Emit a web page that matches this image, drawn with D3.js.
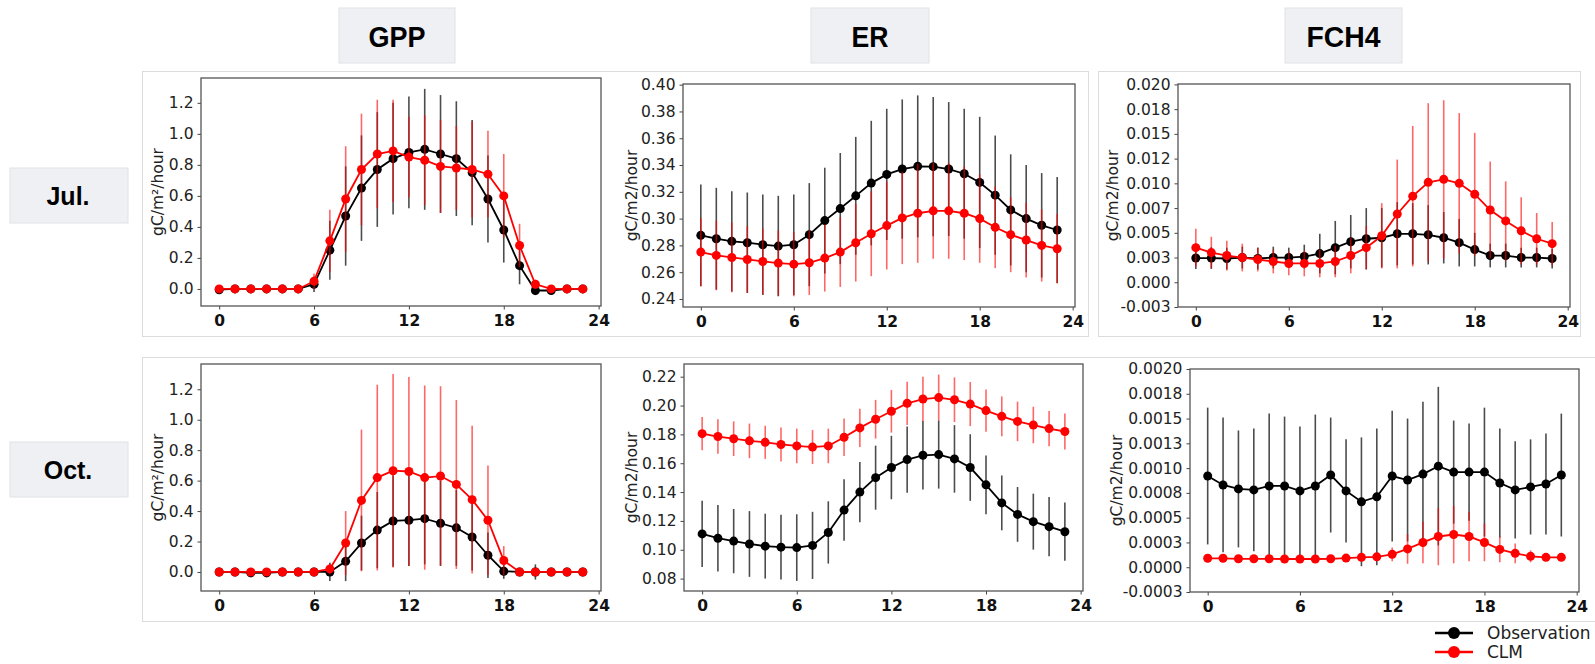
<!DOCTYPE html>
<html>
<head>
<meta charset="utf-8">
<script src="https://cdn.jsdelivr.net/npm/d3@7"></script>
<style>
  body { margin: 0; background: #fff; }
  svg { display: block; }
</style>
</head>
<body>
<svg id="chart" width="1595" height="664"></svg>
<script>
// hours of the day
const hours = [0,1,2,3,4,5,6,7,8,9,10,11,12,13,14,15,16,17,18,19,20,21,22,23];
const xTicks = [0, 6, 12, 18, 24];

// July
const julGppObs   = [-0.005,0,0,0,0,0,0.03,0.25,0.47,0.65,0.77,0.84,0.88,0.90,0.87,0.84,0.75,0.58,0.38,0.15,-0.01,-0.01,0,0];
const julGppObsSd = [0.01,0,0,0,0,0,0.05,0.19,0.32,0.34,0.37,0.36,0.36,0.39,0.38,0.37,0.34,0.28,0.21,0.12,0.03,0.02,0,0];
const julGppClm   = [0,0,0,0,0,0,0.05,0.31,0.58,0.77,0.87,0.89,0.85,0.83,0.79,0.78,0.77,0.74,0.60,0.28,0.03,0,0,0];
const julGppClmSd = [0,0,0,0,0,0,0.05,0.20,0.34,0.36,0.35,0.33,0.26,0.29,0.30,0.27,0.31,0.28,0.27,0.14,0.03,0,0,0];

const julErObs   = [0.2875,0.285,0.283,0.282,0.2805,0.2795,0.2805,0.288,0.2985,0.3075,0.317,0.3265,0.333,0.337,0.339,0.3388,0.337,0.3335,0.327,0.3175,0.3065,0.300,0.295,0.2915];
const julErObsSd = [0.038,0.038,0.0375,0.0375,0.0375,0.0375,0.0375,0.0385,0.0395,0.0415,0.044,0.0465,0.049,0.052,0.053,0.052,0.050,0.0485,0.049,0.0445,0.0415,0.040,0.039,0.0395];
const julErClm   = [0.275,0.2725,0.271,0.2695,0.268,0.2668,0.266,0.267,0.2705,0.275,0.282,0.2887,0.2948,0.3005,0.304,0.3058,0.3058,0.304,0.300,0.2935,0.288,0.284,0.280,0.2775];
const julErClmSd = [0.0255,0.026,0.026,0.025,0.0245,0.0243,0.024,0.024,0.025,0.026,0.029,0.0317,0.0328,0.0345,0.037,0.0358,0.0358,0.035,0.033,0.0305,0.028,0.028,0.027,0.026];

const julCh4Obs   = [0.00245,0.00245,0.0024,0.0025,0.0024,0.0025,0.0025,0.0026,0.0029,0.0035,0.0041,0.0044,0.0045,0.0049,0.0049,0.0048,0.0045,0.0040,0.0033,0.0027,0.0027,0.0025,0.0025,0.0024];
const julCh4ObsSd = [0.0011,0.0011,0.0011,0.0011,0.0011,0.0011,0.0010,0.0012,0.0020,0.0027,0.0027,0.0031,0.0030,0.0032,0.0031,0.0030,0.0026,0.0024,0.0017,0.0012,0.0012,0.0010,0.0010,0.0010];
const julCh4Clm   = [0.0035,0.0030,0.0027,0.0025,0.0023,0.0021,0.0019,0.0019,0.0019,0.0021,0.0027,0.0035,0.0047,0.0069,0.0087,0.0101,0.0104,0.0100,0.0089,0.0073,0.0062,0.0052,0.0044,0.0039];
const julCh4ClmSd = [0.0019,0.0016,0.0015,0.0014,0.0012,0.0012,0.0012,0.0013,0.0014,0.0016,0.0018,0.0022,0.0033,0.0055,0.0071,0.0080,0.0080,0.0071,0.0062,0.0049,0.0040,0.0034,0.0026,0.0022];

// October
const octGppObs   = [0,0,-0.005,-0.005,0,0,0,0,0.07,0.19,0.275,0.335,0.34,0.35,0.32,0.29,0.23,0.11,0.005,0,0,0,0,0];
const octGppObsSd = [0.01,0.01,0.03,0.03,0.01,0.01,0.01,0.06,0.13,0.18,0.25,0.30,0.30,0.30,0.28,0.25,0.22,0.15,0.05,0.01,0.05,0.01,0.01,0.01];
const octGppClm   = [0,0,0,0,0,0,0,0.02,0.19,0.47,0.62,0.665,0.66,0.62,0.63,0.575,0.475,0.34,0.075,0,0,0,0,0];
const octGppClmSd = [0,0,0,0,0,0,0,0.035,0.21,0.465,0.61,0.635,0.62,0.605,0.59,0.555,0.485,0.36,0.095,0,0,0,0,0];

const octErObs   = [0.111,0.108,0.106,0.104,0.1025,0.1018,0.1015,0.103,0.112,0.1275,0.140,0.150,0.157,0.1625,0.1655,0.166,0.163,0.157,0.145,0.1325,0.1245,0.1195,0.116,0.1125];
const octErObsSd = [0.023,0.023,0.0223,0.0228,0.0225,0.0225,0.0231,0.0233,0.0216,0.0213,0.0209,0.0222,0.022,0.023,0.0237,0.0236,0.0234,0.0231,0.0203,0.019,0.019,0.0194,0.0205,0.0202];
const octErClm   = [0.1805,0.1785,0.177,0.1755,0.1745,0.173,0.172,0.1712,0.172,0.178,0.1845,0.1905,0.196,0.2015,0.2045,0.2055,0.204,0.201,0.1965,0.1925,0.189,0.1865,0.184,0.182];
const octErClmSd = [0.0115,0.012,0.012,0.012,0.0115,0.0118,0.012,0.0118,0.012,0.013,0.0133,0.0134,0.0148,0.015,0.0155,0.016,0.0155,0.0153,0.0147,0.0138,0.0137,0.0127,0.0122,0.0124];

const octCh4Obs   = [0.00092,0.00083,0.00079,0.00078,0.00082,0.00082,0.00077,0.00082,0.00093,0.00077,0.00066,0.00071,0.00092,0.00088,0.00094,0.00102,0.00096,0.00096,0.00096,0.00085,0.00078,0.00081,0.00084,0.00093];
const octCh4ObsSd = [0.00069,0.00068,0.00059,0.00062,0.00073,0.0007,0.00065,0.00072,0.00058,0.00052,0.00065,0.00069,0.00066,0.00062,0.00073,0.0008,0.00052,0.00049,0.00065,0.00055,0.00049,0.00048,0.00051,0.00062];
const octCh4Clm   = [0.00009,0.00009,0.000085,0.000085,0.000085,0.000083,0.000083,0.000083,0.000085,0.000092,0.0001,0.000105,0.00013,0.000185,0.00025,0.00031,0.00033,0.00031,0.00025,0.00018,0.00014,0.00011,0.0001,0.0001];
const octCh4ClmSd = [0.00002,0.00002,0.00002,0.00002,0.00002,0.00002,0.00002,0.00002,0.00002,0.00002,0.00002,0.00002,0.00007,0.00015,0.00021,0.00029,0.00029,0.00025,0.00019,0.00013,0.0001,0.00006,0.00003,0.00003];

// y ticks and their printed labels
const gppTicks = [0, 0.2, 0.4, 0.6, 0.8, 1.0, 1.2];
const gppLabels = ["0.0","0.2","0.4","0.6","0.8","1.0","1.2"];
const julErTicks = [0.24, 0.26, 0.28, 0.30, 0.32, 0.34, 0.36, 0.38, 0.40];
const julErLabels = ["0.24","0.26","0.28","0.30","0.32","0.34","0.36","0.38","0.40"];
const octErTicks = [0.08, 0.10, 0.12, 0.14, 0.16, 0.18, 0.20, 0.22];
const octErLabels = ["0.08","0.10","0.12","0.14","0.16","0.18","0.20","0.22"];
const julCh4Ticks = [-0.0025, 0, 0.0025, 0.005, 0.0075, 0.01, 0.0125, 0.015, 0.0175, 0.02];
const julCh4Labels = ["-0.003","0.000","0.003","0.005","0.007","0.010","0.012","0.015","0.018","0.020"];
const octCh4Ticks = [-0.00025, 0, 0.00025, 0.0005, 0.00075, 0.001, 0.00125, 0.0015, 0.00175, 0.002];
const octCh4Labels = ["-0.0003","0.0000","0.0003","0.0005","0.0008","0.0010","0.0013","0.0015","0.0018","0.0020"];

const colNames = ["GPP", "ER", "FCH4"];
const rowNames = ["Jul.", "Oct."];
const seriesNames = ["Observation", "CLM"];
const seriesColors = ["#000000", "#ff0000"];

const svg = d3.select("#chart");

// light frames of the pasted figure pieces
const frames = [[142, 71, 946, 265], [1098, 71, 482, 265], [142, 357, 1460, 264]];
svg.append("g").selectAll("rect").data(frames).join("rect")
    .attr("x", d => d[0] + 0.5).attr("y", d => d[1] + 0.5)
    .attr("width", d => d[2]).attr("height", d => d[3])
    .attr("fill", "none").attr("stroke", "#dcdcdc").attr("stroke-width", 1);

// column header boxes
const headBoxes = [[339, 116, 57], [811, 118, 37], [1285, 117, 74]];
const heads = svg.append("g").selectAll("g").data(colNames).join("g")
    .attr("transform", (d, i) => `translate(${headBoxes[i][0]},8)`);
heads.append("rect")
    .attr("width", (d, i) => headBoxes[i][1]).attr("height", 55)
    .attr("fill", "#eef0f4").attr("stroke", "#e0e2e6");
heads.append("text")
    .attr("x", (d, i) => headBoxes[i][1] / 2).attr("y", 39)
    .attr("text-anchor", "middle")
    .attr("textLength", (d, i) => headBoxes[i][2])
    .attr("lengthAdjust", "spacingAndGlyphs")
    .style("font", "bold 29px 'Liberation Sans', Arial, sans-serif")
    .text(d => d);

// row label boxes
const rowY = [168, 442];
const rows = svg.append("g").selectAll("g").data(rowNames).join("g")
    .attr("transform", (d, i) => `translate(10,${rowY[i]})`);
rows.append("rect")
    .attr("width", 118).attr("height", 55)
    .attr("fill", "#eef0f4").attr("stroke", "#e0e2e6");
rows.append("text")
    .attr("x", 58).attr("y", 37)
    .attr("text-anchor", "middle")
    .style("font", "bold 25px 'Liberation Sans', Arial, sans-serif")
    .text(d => d);

const panels = [
  {box: [201, 78, 601, 306], y: [-0.11, 1.36], ticks: gppTicks, labels: gppLabels, unit: "gC/m²/hour", ly: 158,
   obs: julGppObs, obsSd: julGppObsSd, clm: julGppClm, clmSd: julGppClmSd},
  {box: [683, 84, 1075, 307], y: [0.234, 0.4005], ticks: julErTicks, labels: julErLabels, unit: "gC/m2/hour", ly: 632,
   obs: julErObs, obsSd: julErObsSd, clm: julErClm, clmSd: julErClmSd},
  {box: [1178, 84, 1570, 307], y: [-0.0025, 0.02004], ticks: julCh4Ticks, labels: julCh4Labels, unit: "gC/m2/hour", ly: 1113,
   obs: julCh4Obs, obsSd: julCh4ObsSd, clm: julCh4Clm, clmSd: julCh4ClmSd},
  {box: [201, 364, 601, 591], y: [-0.125, 1.366], ticks: gppTicks, labels: gppLabels, unit: "gC/m²/hour", ly: 158,
   obs: octGppObs, obsSd: octGppObsSd, clm: octGppClm, clmSd: octGppClmSd},
  {box: [684, 364, 1083, 591], y: [0.0714, 0.2288], ticks: octErTicks, labels: octErLabels, unit: "gC/m2/hour", ly: 632,
   obs: octErObs, obsSd: octErObsSd, clm: octErClm, clmSd: octErClmSd},
  {box: [1190, 369, 1579, 592], y: [-0.00025, 0.002], ticks: octCh4Ticks, labels: octCh4Labels, unit: "gC/m2/hour", ly: 1117,
   obs: octCh4Obs, obsSd: octCh4ObsSd, clm: octCh4Clm, clmSd: octCh4ClmSd}
];

panels.forEach(p => {
    const [x0, y0, x1, y1] = p.box;
    const x = d3.scaleLinear().domain([-1.15, 24.15]).range([x0, x1]);
    const y = d3.scaleLinear().domain(p.y).range([y1, y0]);
    const g = svg.append("g");

    const yAxis = g.append("g")
        .attr("transform", `translate(${x0},0)`)
        .call(d3.axisLeft(y).tickValues(p.ticks).tickSizeOuter(0).tickSize(3.5).tickPadding(4)
            .tickFormat((d, i) => p.labels[i]));
    yAxis.select(".domain").remove();
    yAxis.selectAll("text").attr("fill", "#222").style("font", "15.5px 'DejaVu Sans', sans-serif");
    yAxis.selectAll("line").attr("stroke", "#444");

    const xAxis = g.append("g")
        .attr("transform", `translate(0,${y1})`)
        .call(d3.axisBottom(x).tickValues(xTicks).tickSizeOuter(0).tickSize(3.5).tickPadding(5));
    xAxis.select(".domain").remove();
    xAxis.selectAll("text").attr("fill", "#111").style("font", "bold 15.5px 'DejaVu Sans', sans-serif");
    xAxis.selectAll("line").attr("stroke", "#444");

    g.append("text")
        .attr("transform", `translate(${p.ly},${(y0 + y1) / 2}) rotate(-90)`)
        .attr("text-anchor", "middle")
        .attr("dy", "0.35em")
        .attr("fill", "#222")
        .style("font", "15.5px 'DejaVu Sans', sans-serif")
        .text(p.unit);

    const series = [[p.obs, p.obsSd], [p.clm, p.clmSd]];
    series.forEach(([vals, sds], k) => {
        const col = seriesColors[k];
        g.append("g").selectAll("line").data(hours).join("line")
            .attr("x1", h => x(h)).attr("x2", h => x(h))
            .attr("y1", h => y(vals[h] - sds[h])).attr("y2", h => y(vals[h] + sds[h]))
            .attr("stroke", col).attr("stroke-opacity", k === 0 ? 0.7 : 0.6)
            .attr("stroke-width", 1.6);
        g.append("path")
            .datum(hours)
            .attr("fill", "none").attr("stroke", col).attr("stroke-width", 1.8)
            .attr("d", d3.line().x(h => x(h)).y(h => y(vals[h])));
        g.append("g").selectAll("circle").data(hours).join("circle")
            .attr("cx", h => x(h)).attr("cy", h => y(vals[h]))
            .attr("r", 4.5).attr("fill", col);
    });

    g.append("rect")
        .attr("x", x0).attr("y", y0).attr("width", x1 - x0).attr("height", y1 - y0)
        .attr("fill", "none").attr("stroke", "#555").attr("stroke-width", 1.3);
});

// legend
const legend = svg.append("g").selectAll("g").data(seriesNames).join("g")
    .attr("transform", (d, i) => `translate(1435,${633 + i * 19})`);
legend.append("line")
    .attr("x1", 0).attr("x2", 38)
    .attr("stroke", (d, i) => seriesColors[i]).attr("stroke-width", 2.5);
legend.append("circle")
    .attr("cx", 19).attr("r", 6)
    .attr("fill", (d, i) => seriesColors[i]);
legend.append("text")
    .attr("x", 52).attr("dy", "0.35em")
    .attr("fill", "#222")
    .style("font", "17px 'DejaVu Sans', sans-serif")
    .text(d => d);
</script>
</body>
</html>
